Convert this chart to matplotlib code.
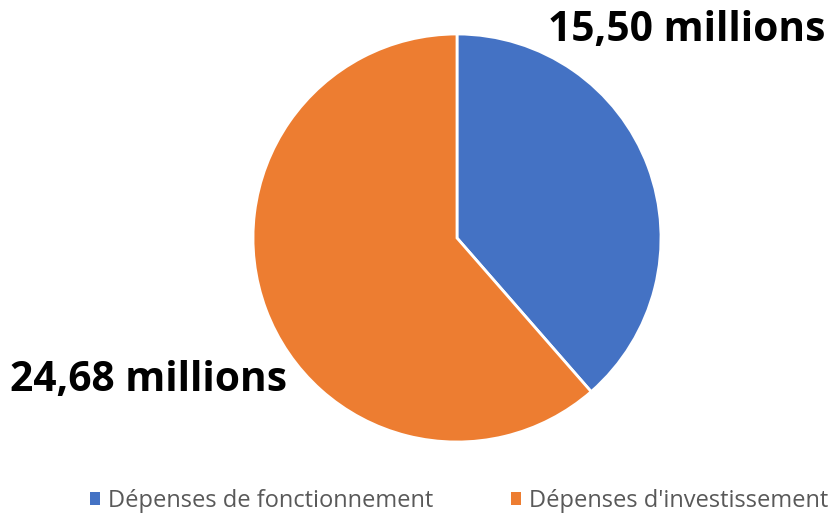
import matplotlib.pyplot as plt
from matplotlib.patches import Patch

# Budget split (millions d'euros)
categories = ["Dépenses de fonctionnement", "Dépenses d'investissement"]
values = [15.50, 24.68]
colors = ["#4472C4", "#ED7D31"]

plt.rcParams['font.family'] = ['Open Sans', 'DejaVu Sans']

fig = plt.figure(figsize=(8.4, 5.17), dpi=100)

# pie centred around (457, 238) px with radius ~204 px
ax = fig.add_axes([253 / 840, 1 - 442 / 517, 408 / 840, 408 / 517])
wedges, _ = ax.pie(values, colors=colors, startangle=90, counterclock=False,
                   wedgeprops=dict(edgecolor='white', linewidth=2))
ax.set_xlim(-1.0, 1.0)
ax.set_ylim(-1.0, 1.0)
ax.set_aspect('equal')
ax.axis('off')

def fmt(v):
    return f"{v:.2f}".replace('.', ',') + " millions"

fig.text(548 / 840, 1 - 31 / 517, fmt(values[0]), fontsize=29.3, fontweight='bold',
         ha='left', va='center', color='black')
fig.text(10 / 840, 1 - 381 / 517, fmt(values[1]), fontsize=29.3, fontweight='bold',
         ha='left', va='center', color='black')

handles = [Patch(facecolor=c, edgecolor='none') for c in colors]
fig.legend(handles, categories, loc='center left', bbox_to_anchor=(90 / 840, 1 - 501 / 517),
           ncol=2, frameon=False, fontsize=17, handlelength=0.42, handleheight=0.42,
           handletextpad=0.33, columnspacing=3.3, labelcolor='#595959',
           borderpad=0, borderaxespad=0)

fig.savefig("out.png", dpi=100)
